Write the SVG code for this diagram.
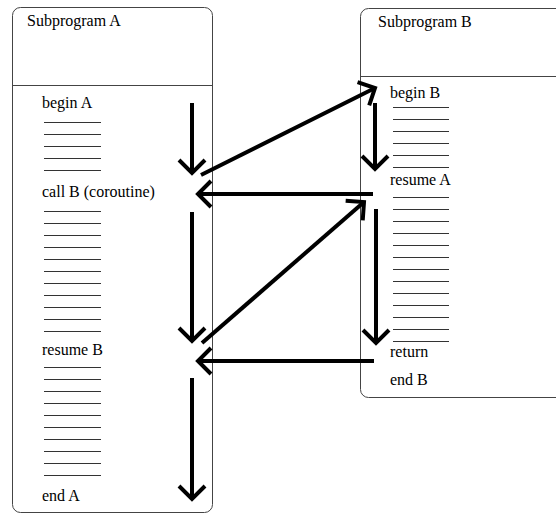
<svg xmlns="http://www.w3.org/2000/svg" width="556" height="515" viewBox="0 0 556 515">
<style>
.box{fill:#fff;stroke:#444;stroke-width:1}
.div{stroke:#444;stroke-width:1}
.t{font-family:'Liberation Serif','Times New Roman',serif;font-size:16px;fill:#000}
.ln{stroke:#333;stroke-width:1}
.ar{fill:none;stroke:#000;stroke-width:4;marker-end:url(#ah)}
</style>
<defs>
<marker id="ah" markerUnits="userSpaceOnUse" markerWidth="40" markerHeight="40" viewBox="-20 -20 40 40" refX="0" refY="0" orient="auto" overflow="visible">
<path d="M-13,-13 L0,0 L-13,13" fill="none" stroke="#000" stroke-width="4" stroke-linejoin="miter"/>
</marker>
</defs>
<rect width="556" height="515" fill="#fff"/>
<g id="subprogramA">
<rect class="box" x="12.5" y="7.5" width="200" height="505" rx="8"/>
<line class="div" x1="12.5" y1="85.5" x2="212.5" y2="85.5"/>
<text class="t" x="27" y="26">Subprogram A</text>
<text class="t" x="42" y="108">begin A</text>
<g class="ln">
<line x1="44" y1="122.5" x2="101" y2="122.5"/><line x1="44" y1="134.5" x2="101" y2="134.5"/><line x1="44" y1="146.5" x2="101" y2="146.5"/><line x1="44" y1="158.5" x2="101" y2="158.5"/><line x1="44" y1="170.5" x2="101" y2="170.5"/>
</g>
<text class="t" x="42" y="197">call B (coroutine)</text>
<g class="ln">
<line x1="44" y1="211.5" x2="101" y2="211.5"/><line x1="44" y1="223.5" x2="101" y2="223.5"/><line x1="44" y1="235.5" x2="101" y2="235.5"/><line x1="44" y1="247.5" x2="101" y2="247.5"/><line x1="44" y1="259.5" x2="101" y2="259.5"/><line x1="44" y1="271.5" x2="101" y2="271.5"/><line x1="44" y1="283.5" x2="101" y2="283.5"/><line x1="44" y1="295.5" x2="101" y2="295.5"/><line x1="44" y1="307.5" x2="101" y2="307.5"/><line x1="44" y1="319.5" x2="101" y2="319.5"/><line x1="44" y1="331.5" x2="101" y2="331.5"/>
</g>
<text class="t" x="42" y="355">resume B</text>
<g class="ln">
<line x1="44" y1="367.5" x2="101" y2="367.5"/><line x1="44" y1="379.5" x2="101" y2="379.5"/><line x1="44" y1="391.5" x2="101" y2="391.5"/><line x1="44" y1="403.5" x2="101" y2="403.5"/><line x1="44" y1="415.5" x2="101" y2="415.5"/><line x1="44" y1="427.5" x2="101" y2="427.5"/><line x1="44" y1="439.5" x2="101" y2="439.5"/><line x1="44" y1="451.5" x2="101" y2="451.5"/><line x1="44" y1="463.5" x2="101" y2="463.5"/><line x1="44" y1="475.5" x2="101" y2="475.5"/>
</g>
<text class="t" x="42" y="501">end A</text>
</g>
<g id="subprogramB">
<rect class="box" x="360.5" y="8.5" width="220" height="389" rx="8"/>
<line class="div" x1="360.5" y1="76.5" x2="580" y2="76.5"/>
<text class="t" x="378" y="27">Subprogram B</text>
<text class="t" x="390" y="98">begin B</text>
<g class="ln">
<line x1="393" y1="107.5" x2="449" y2="107.5"/><line x1="393" y1="119.5" x2="449" y2="119.5"/><line x1="393" y1="131.5" x2="449" y2="131.5"/><line x1="393" y1="143.5" x2="449" y2="143.5"/><line x1="393" y1="155.5" x2="449" y2="155.5"/><line x1="393" y1="167.5" x2="449" y2="167.5"/>
</g>
<text class="t" x="390" y="185">resume A</text>
<g class="ln">
<line x1="393" y1="197.5" x2="449" y2="197.5"/><line x1="393" y1="209.5" x2="449" y2="209.5"/><line x1="393" y1="221.5" x2="449" y2="221.5"/><line x1="393" y1="233.5" x2="449" y2="233.5"/><line x1="393" y1="245.5" x2="449" y2="245.5"/><line x1="393" y1="257.5" x2="449" y2="257.5"/><line x1="393" y1="269.5" x2="449" y2="269.5"/><line x1="393" y1="281.5" x2="449" y2="281.5"/><line x1="393" y1="293.5" x2="449" y2="293.5"/><line x1="393" y1="305.5" x2="449" y2="305.5"/><line x1="393" y1="317.5" x2="449" y2="317.5"/><line x1="393" y1="329.5" x2="449" y2="329.5"/><line x1="393" y1="341.5" x2="449" y2="341.5"/>
</g>
<text class="t" x="390" y="357">return</text>
<text class="t" x="390" y="385">end B</text>
</g>
<g id="connectors">
<line class="ar" x1="192" y1="103" x2="192" y2="173"/>
<line class="ar" x1="201" y1="175" x2="375" y2="88"/>
<line class="ar" x1="373" y1="194" x2="198" y2="194"/>
<line class="ar" x1="192" y1="212" x2="192" y2="341"/>
<line class="ar" x1="202" y1="343" x2="364" y2="202"/>
<line class="ar" x1="374" y1="361" x2="198" y2="361"/>
<line class="ar" x1="192" y1="378" x2="192" y2="499"/>
<line class="ar" x1="375" y1="103" x2="375" y2="169"/>
<line class="ar" x1="376" y1="209" x2="376" y2="343"/>
</g>
</svg>
